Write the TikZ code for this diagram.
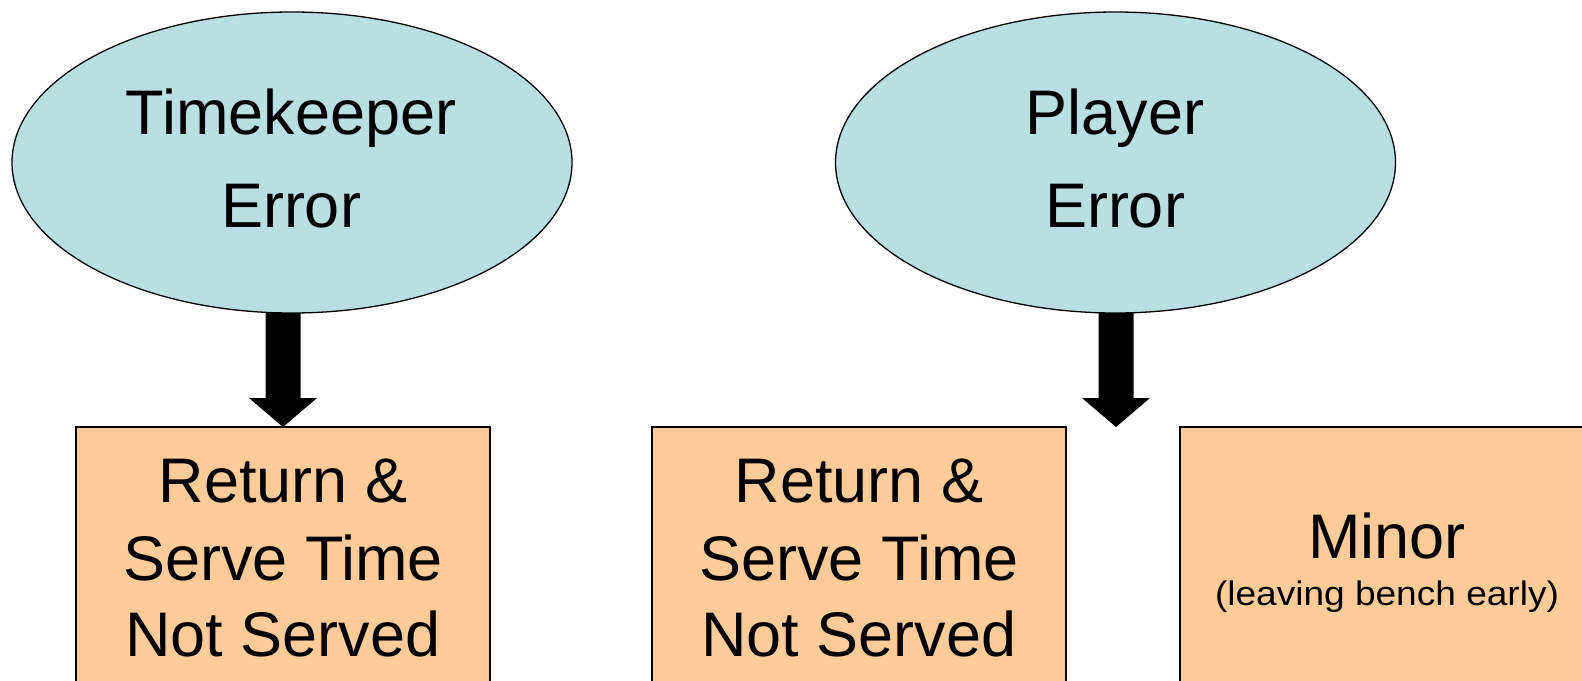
\documentclass[tikz,border=0pt]{standalone}
\usepackage{fontspec}
\setmainfont{Liberation Sans}
\newfontfamily\notefont[FakeStretch=1.09]{Liberation Sans}
\usetikzlibrary{calc,shapes.geometric,backgrounds}
\definecolor{ovalfill}{HTML}{B9DFE3}
\definecolor{boxfill}{HTML}{FFCC99}
\tikzset{
  oval/.style={ellipse, draw=black, line width=1.3pt, fill=ovalfill,
    minimum width=560pt, minimum height=301pt, inner sep=0pt, outer sep=0pt},
  outcome/.style={rectangle, draw=black, line width=1.8pt, fill=boxfill,
    minimum width=414pt, minimum height=270pt, anchor=north, inner sep=0pt, outer sep=0pt},
  bigtext/.style={anchor=base, inner sep=0pt, font=\fontsize{63}{63}\selectfont},
  notetext/.style={anchor=base, inner sep=0pt, font=\notefont\fontsize{34}{34}\selectfont},
}
% thick block arrow from the bottom of an oval (#1) down to a point (#2)
\newcommand{\blockarrow}[2]{%
  \fill ($(#2 |- #1.south)+(-17.5,-3)$) -- ($(#2)+(-17.5,-29)$) -- ($(#2)+(-34,-29)$)
    -- (#2) -- ($(#2)+(34,-29)$) -- ($(#2)+(17.5,-29)$)
    -- ($(#2 |- #1.south)+(17.5,-3)$) -- cycle;}
\begin{document}
\begin{tikzpicture}[x=1pt, y=-1pt]
  \useasboundingbox (0,0) rectangle (1582,680);
  \clip (0,0) rectangle (1582,680);

  % cause ovals
  \node[oval] (tk) at (292,162.5) {};
  \node[oval] (pl) at (1115.5,162.5) {};
  \node[bigtext] (tk1) at (291,134) {Timekeeper};
  \node[bigtext] (tk2) at (291,227) {Error};
  \node[bigtext] (pl1) at (1115,134) {Player};
  \node[bigtext] (pl2) at (1115,227) {Error};

  % outcome boxes
  \node[outcome] (ra) at (283,427) {};
  \node[outcome] (rb) at (859,427) {};
  \node[outcome] (mn) at (1387,427) {};
  \node[bigtext] (ra1) at (283,502) {Return \&};
  \node[bigtext] (ra2) at (283,580) {Serve Time};
  \node[bigtext] (ra3) at (283,656) {Not Served};
  \node[bigtext] (rb1) at (859,502) {Return \&};
  \node[bigtext] (rb2) at (859,580) {Serve Time};
  \node[bigtext] (rb3) at (859,656) {Not Served};
  \node[bigtext] (mn1) at (1387,558) {Minor};
  \node[notetext] (mn2) at (1387,605) {(leaving bench early)};

  \coordinate (pltip) at (1116,427);

  % arrows
  \begin{scope}[on background layer]
    \blockarrow{tk}{ra.north}
    \blockarrow{pl}{pltip}
  \end{scope}
\end{tikzpicture}
\end{document}
